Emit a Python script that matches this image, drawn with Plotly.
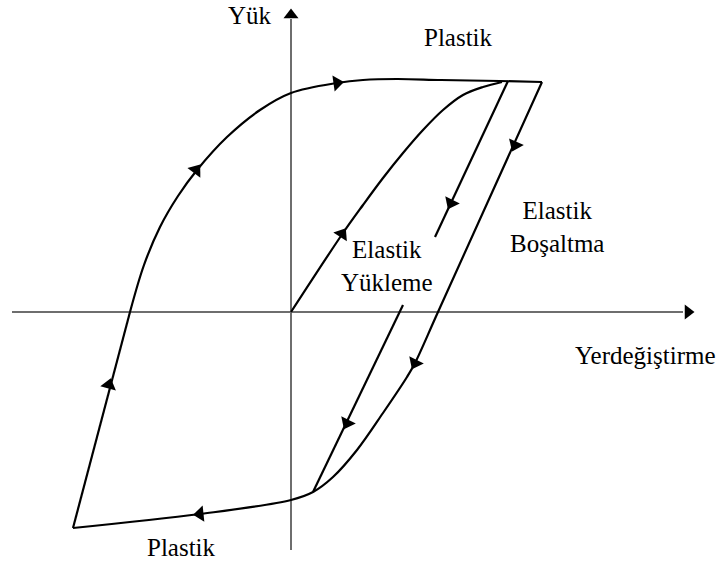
import plotly.graph_objects as go

# Coordinates: displacement (x) and load (y), origin at axis crossing
# Outer hysteresis loop
left_x = [-218, -161]
left_y = [-216, 0]
upper_x = [-161, -147, -131, -113, -94, -64, -31, 0, 46, 72, 106, 150, 209, 251]
upper_y = [0, 47, 85, 116, 142, 175, 202, 219, 229, 232, 233, 232, 231, 230]
right_x = [251, 147, 124, 116, 92, 66, 42, 22, 0, -91, -218]
right_y = [230, 0, -51, -65, -101, -138, -165, -180, -188, -202, -216]

# Elastic loading branch from origin
load_x = [0, 52, 72, 92, 112, 132, 152, 172, 192, 211]
load_y = [0, 79, 107, 134, 159, 182, 202, 217, 225, 230]

# Elastic unloading branch (interrupted by label)
unl1_x = [217, 144]
unl1_y = [231, 75]
unl2_x = [112, 22]
unl2_y = [7, -180]

# Axes
xaxis_x = [-279, 392]
xaxis_y = [0, 0]
yaxis_x = [0, 0]
yaxis_y = [293, -238]

# Direction arrows
arrow_x = [-182, -95, 46, 224, 160, 51, 124, 56, -91]
arrow_y = [-73, 142, 229, 167, 109, 78, -51, -111, -202]
arrow_ang = [15, 37, 82, 204, 206, 33, 206, 206, 264]

axis_arrow_x = [0, 397]
axis_arrow_y = [297, 0]
axis_arrow_ang = [0, 90]

labels = ["Yük", "Plastik", "Elastik<br>Yükleme", "Elastik<br>Boşaltma", "Yerdeğiştirme", "Plastik"]
label_x = [-41, 167, 96, 266, 354, -110]
label_y = [297, 275, 46, 85, -43, -235]

fig = go.Figure()
axis_col = "#6e6e6e"
fig.add_trace(go.Scatter(x=xaxis_x, y=xaxis_y, mode="lines", line=dict(color=axis_col, width=2)))
fig.add_trace(go.Scatter(x=yaxis_x, y=yaxis_y, mode="lines", line=dict(color=axis_col, width=2)))

curve = dict(color="black", width=2.2)
for xs, ys in [(left_x, left_y), (upper_x, upper_y), (right_x, right_y),
               (load_x, load_y), (unl1_x, unl1_y), (unl2_x, unl2_y)]:
    fig.add_trace(go.Scatter(x=xs, y=ys, mode="lines", line=dict(shape="spline", smoothing=1, **curve)))

fig.add_trace(go.Scatter(x=arrow_x, y=arrow_y, mode="markers",
                         marker=dict(symbol="triangle-up", size=14, color="black", angle=arrow_ang,
                                     line=dict(width=0))))
fig.add_trace(go.Scatter(x=axis_arrow_x, y=axis_arrow_y, mode="markers",
                         marker=dict(symbol="triangle-up", size=13, color="black", angle=axis_arrow_ang,
                                     line=dict(width=0))))

for t, x, y in zip(labels, label_x, label_y):
    fig.add_annotation(x=x, y=y, text=t, showarrow=False, xanchor="center", yanchor="middle",
                       font=dict(family="'Liberation Serif', 'Times New Roman', 'DejaVu Serif', serif",
                                 size=25, color="black"))

fig.update_layout(
    width=720, height=567, margin=dict(l=0, r=0, t=0, b=0),
    paper_bgcolor="white", plot_bgcolor="white", showlegend=False,
    xaxis=dict(range=[-291, 429], visible=False, fixedrange=True),
    yaxis=dict(range=[-255, 312], visible=False, fixedrange=True),
)
fig.write_html("out.html", config={"displayModeBar": False},
               post_script="document.body.style.margin='0';")
